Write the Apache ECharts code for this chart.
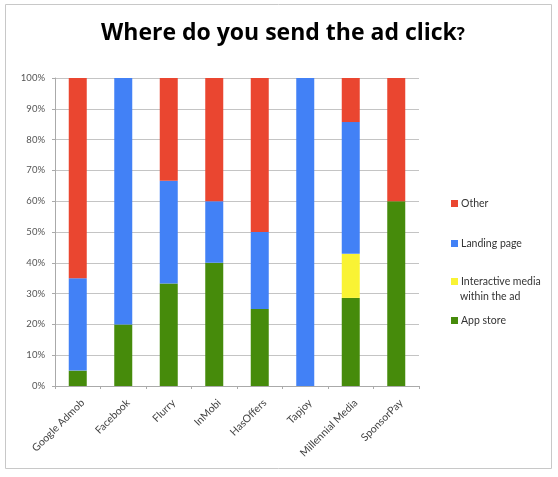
<!DOCTYPE html>
<html><head><meta charset="utf-8">
<script src="https://cdn.jsdelivr.net/npm/echarts@6/dist/echarts.min.js"></script>
<style>html,body{margin:0;padding:0;background:#fff}#c{width:558px;height:477px}</style>
</head><body><div id="c"></div>
<script>
const categories = ['Google Admob','Facebook','Flurry','InMobi','HasOffers','Tapjoy','Millennial Media','SponsorPay'];
const appStore    = [5, 20, 33.3, 40, 25, 0, 28.6, 60];
const interactive = [0, 0, 0, 0, 0, 0, 14.3, 0];
const landingPage = [30, 80, 33.3, 20, 25, 100, 42.8, 0];
const other       = [65, 0, 33.4, 40, 50, 0, 14.3, 40];
const yTicks = {min: 0, max: 100, interval: 10};

const C = {red:'#EA4630', blue:'#4281F6', yellow:'#F9F334', green:'#468B0B'};
const font = 'Lato, "Open Sans", sans-serif';

const chart = echarts.init(document.getElementById('c'));
function ser(name, data, color){
  return {name, type:'bar', stack:'s', data, barWidth:18,
    itemStyle:{color}, emphasis:{disabled:true}};
}
function leg(name, top, text){
  return {data:[name], left:451, top, orient:'vertical', itemWidth:7, itemHeight:7, itemGap:3,
    icon:'rect', selectedMode:false, padding:0,
    formatter: text ? (()=>text) : undefined,
    textStyle:{fontSize:10.5, color:'#333', fontFamily:font, padding:[0,0,0,-2]}};
}
chart.setOption({
  animation:false,
  backgroundColor:'#fff',
  title:{text:'Where do you send the ad click{q|?}', left:278, textAlign:'center', top:17,
    textStyle:{fontSize:23, fontWeight:'bold', color:'#000', fontFamily:'"Open Sans", sans-serif',
      rich:{q:{fontSize:17, fontWeight:'bold', color:'#000', fontFamily:'"Open Sans", sans-serif', padding:[4,0,0,0]}}}},
  grid:{left:55, right:139, top:78, bottom:91, containLabel:false},
  legend:[
    leg('Other', 198),
    leg('Landing page', 238),
    leg('Interactive media within the ad', 276, 'Interactive media'),
    leg('App store', 315)
  ],
  graphic:[
    {type:'rect', shape:{x:5.5,y:4.5,width:546,height:464}, style:{fill:'none', stroke:'#c8c8c8', lineWidth:1}, silent:true, z:-1},
    {type:'text', left:460, top:291, style:{text:'within the ad', fontSize:10.5, fill:'#333', fontFamily:font}}
  ],
  xAxis:{type:'category', data:categories,
    axisLine:{lineStyle:{color:'#aaa'}},
    axisTick:{show:true, length:3, lineStyle:{color:'#aaa'}},
    axisLabel:{rotate:45, interval:0, fontSize:10.5, color:'#444', fontFamily:font, margin:20, padding:[0,-7,0,0]}},
  yAxis:{type:'value', min:yTicks.min, max:yTicks.max, interval:yTicks.interval,
    axisLine:{show:true, lineStyle:{color:'#aaa'}},
    axisTick:{show:true, length:3, lineStyle:{color:'#aaa'}},
    splitLine:{lineStyle:{color:'#c4c4c4'}},
    axisLabel:{formatter:'{value}%', fontSize:9.5, color:'#555', fontFamily:font, margin:10}},
  series:[
    ser('App store', appStore, C.green),
    ser('Interactive media within the ad', interactive, C.yellow),
    ser('Landing page', landingPage, C.blue),
    ser('Other', other, C.red)
  ]
});
</script></body></html>
